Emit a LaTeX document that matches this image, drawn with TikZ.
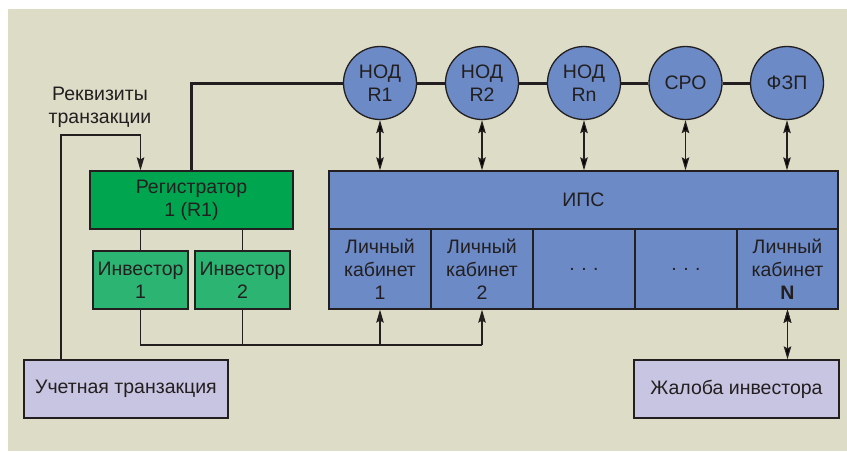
\documentclass[tikz,border=0pt]{standalone}
\usepackage{fontspec}
\setmainfont{Liberation Sans}
\usetikzlibrary{arrows.meta}
\definecolor{bgcol}{RGB}{220,220,199}
\definecolor{blucol}{RGB}{107,138,198}
\definecolor{regcol}{RGB}{0,165,80}
\definecolor{invcol}{RGB}{43,180,114}
\definecolor{lilcol}{RGB}{200,197,226}
\definecolor{inkcol}{RGB}{35,31,32}
\newcommand{\cab}[1]{Личный\\кабинет\\#1}

\begin{document}
\begin{tikzpicture}[x=1pt,y=-1pt,>={Stealth[length=13pt,width=7.5pt,inset=2pt]},
  every node/.style={font=\fontsize{19.5}{23}\selectfont,text=inkcol,align=center,inner sep=1pt},
  nod/.style={circle,draw=inkcol,line width=1.3pt,fill=blucol,minimum size=73pt},
  blk/.style={rectangle,draw=inkcol,line width=1.3pt,minimum height=58pt},
  cell/.style={blk,fill=blucol,minimum width=102pt,minimum height=80pt},
  wire/.style={draw=inkcol,line width=1.2pt}]
	\useasboundingbox (0,0) rectangle (847,451);
	\fill[bgcol] (8,9) rectangle (847,451);
	\node[nod] (n1) at (380,83) {НОД\\R1};
	\node[nod] (n2) at (482,83) {НОД\\R2};
	\node[nod] (nn) at (584,83) {НОД\\Rn};
	\node[nod] (sro) at (685.5,83) {СРО};
	\node[nod] (fzp) at (787,83) {ФЗП};
	\node[blk,fill=regcol,minimum width=203pt] (reg) at (191.5,200) {Регистратор\\1 (R1)};
	\node[blk,fill=blucol,minimum width=509pt] (ips) at (583.5,200) {ИПС};
	\node[cell] (c1) at (380,269) {\cab{1}};
	\node[cell] (c2) at (482,269) {\cab{2}};
	\node[cell] (c3) at (584,269) {.\,\,.\,\,.};
	\node[cell] (c4) at (686,269) {.\,\,.\,\,.};
	\node[cell,minimum width=101pt] (cn) at (787.5,269) {\cab{\textbf{N}}};
	\node[blk,fill=invcol,minimum width=95pt] (inv1) at (140.5,280) {Инвестор\\1};
	\node[blk,fill=invcol,minimum width=95pt] (inv2) at (242.5,280) {Инвестор\\2};
	\node[blk,fill=lilcol,minimum width=204pt] (uch) at (126,389) {Учетная транзакция};
	\node[blk,fill=lilcol,minimum width=205pt] (zh) at (736.5,389) {Жалоба инвестора};
	\node (rekv) at (100,107) {Реквизиты\\транзакции};
	\coordinate (turn) at (61,135);
	\coordinate (bus) at (0,345);
	\draw[draw=inkcol,line width=3pt] (reg.north) |- (n1.west);
	\draw[draw=inkcol,line width=3pt] (n1) -- (n2) -- (nn) -- (sro) -- (fzp);
	\path[wire,<->]
	(n1.south) edge (n1.south |- ips.north)
	(n2.south) edge (n2.south |- ips.north)
	(nn.south) edge (nn.south |- ips.north)
	(sro.south) edge (sro.south |- ips.north)
	(fzp.south) edge (fzp.south |- ips.north)
	(cn.south) edge (cn.south |- zh.north);
	\path[wire]
	(inv1.north |- reg.south) edge (inv1.north)
	(inv2.north |- reg.south) edge (inv2.north)
	(inv2.south) edge (inv2.south |- bus);
	\draw[wire,->] (uch.north -| turn) -- (turn) -| (inv1.north |- reg.north);
	\draw[wire] (inv1.south) |- (c2.south |- bus);
	\draw[wire,->] (c1.south |- bus) -- (c1.south);
	\draw[wire,->] (c2.south |- bus) -- (c2.south);
\end{tikzpicture}
\end{document}
